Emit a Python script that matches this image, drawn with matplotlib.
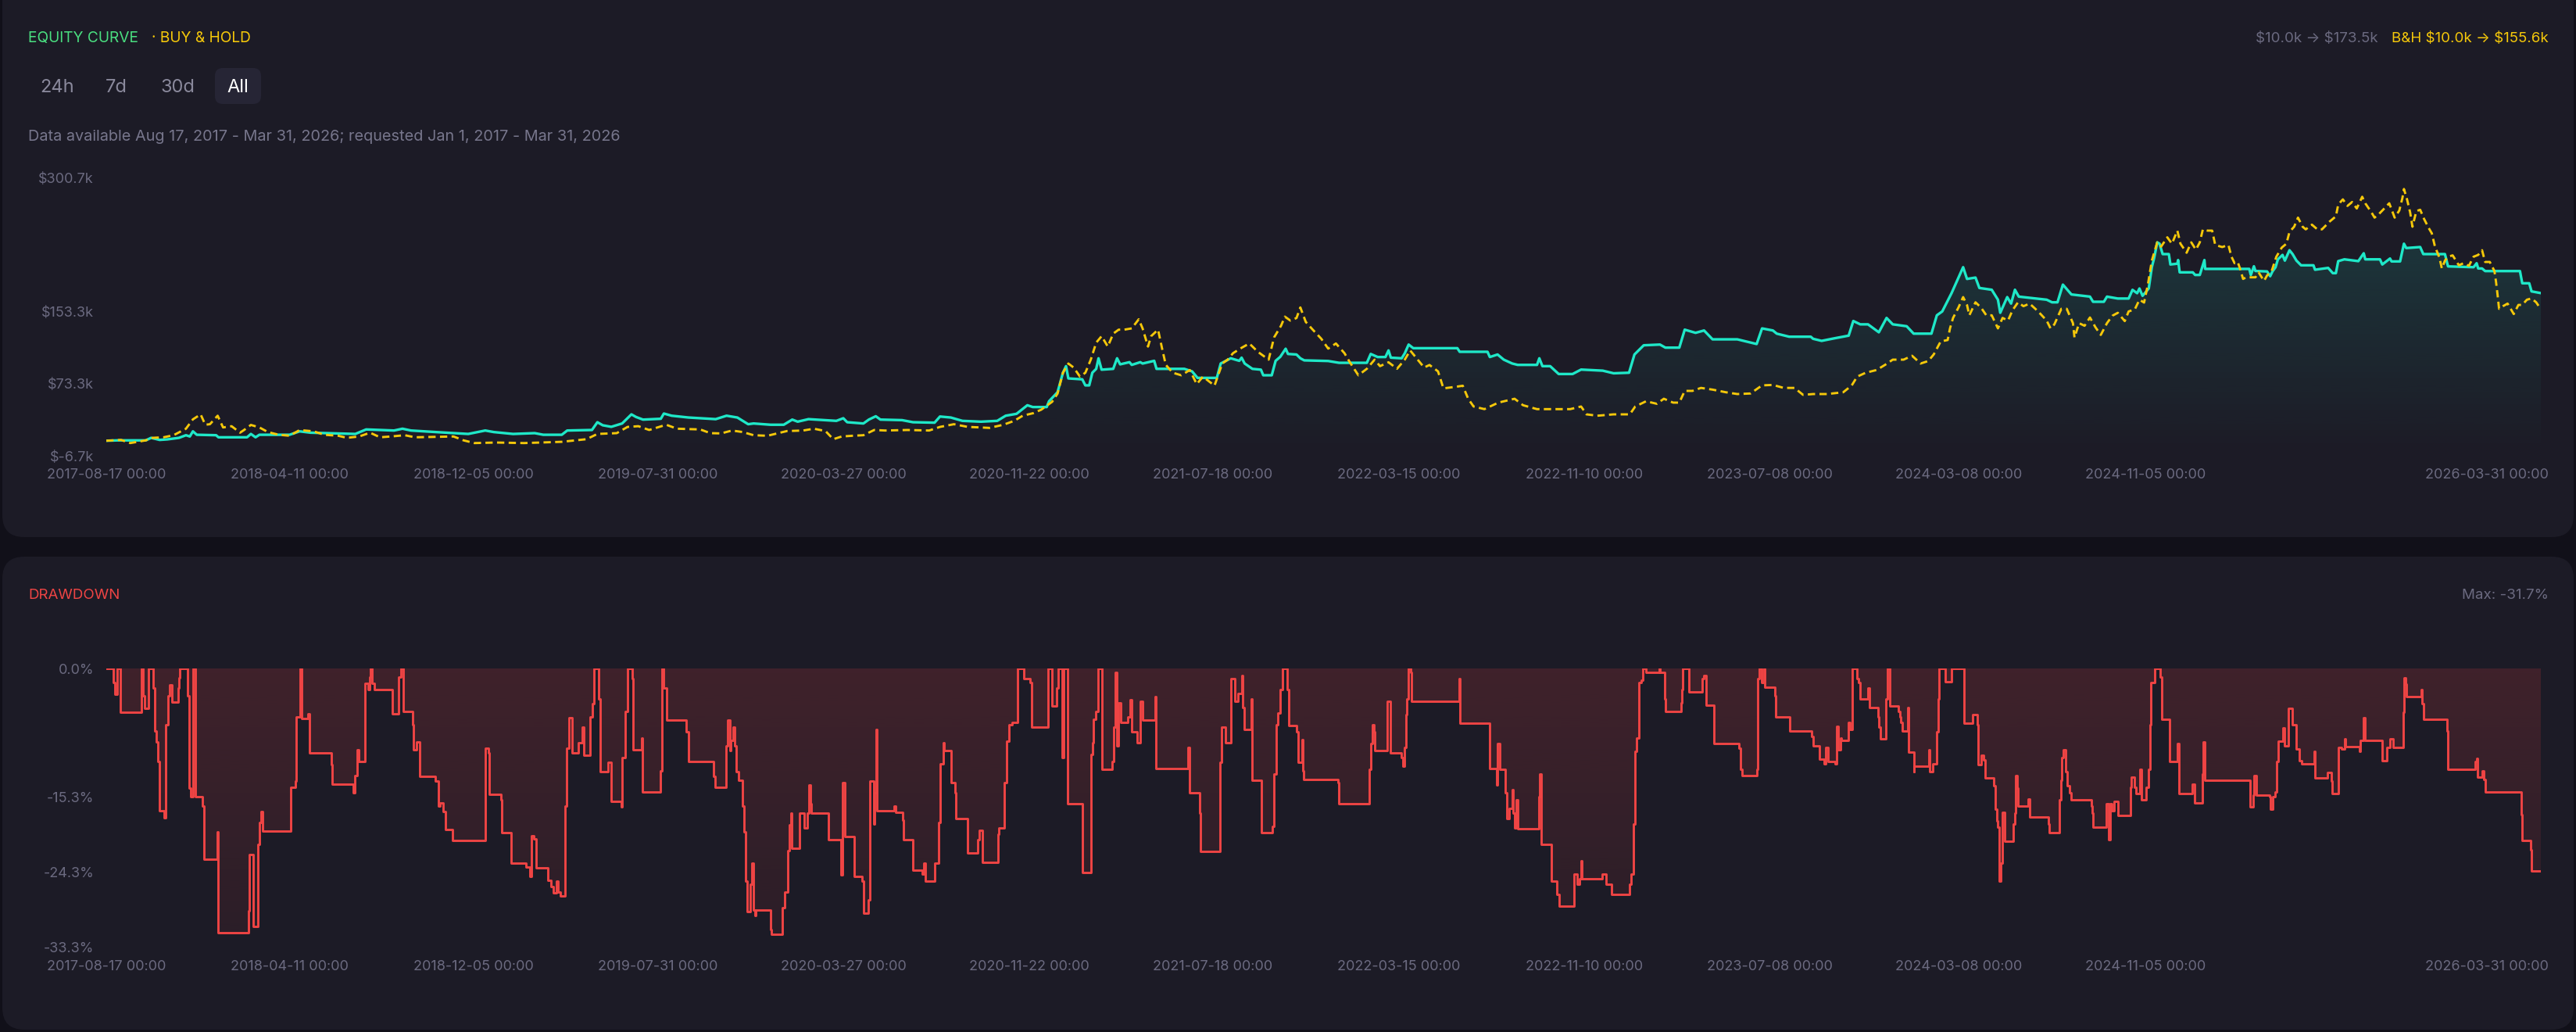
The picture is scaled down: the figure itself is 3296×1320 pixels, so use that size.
import numpy as np
import pandas as pd
import matplotlib
matplotlib.use("Agg")
import matplotlib.pyplot as plt
import matplotlib.dates as mdates
from matplotlib.patches import FancyBboxPatch
from matplotlib.colors import to_rgb

plt.rcParams['font.family'] = ['Inter', 'DejaVu Sans']

# ---------------- data ----------------
equity_dates = [
    "2017-08-17", "2017-09-01", "2017-10-07", "2017-10-14", "2017-10-25", "2017-11-04", "2017-11-19",
    "2017-11-28", "2017-12-03", "2017-12-07", "2017-12-12", "2018-01-06", "2018-01-09", "2018-02-15",
    "2018-02-20", "2018-02-26", "2018-03-03", "2018-04-11", "2018-04-24", "2018-05-08", "2018-07-05",
    "2018-07-19", "2018-08-24", "2018-09-04", "2018-09-15", "2018-10-17", "2018-11-28", "2018-12-20",
    "2018-12-31", "2019-01-25", "2019-02-22", "2019-03-05", "2019-03-29", "2019-04-05", "2019-05-07",
    "2019-05-14", "2019-05-21", "2019-06-01", "2019-06-15", "2019-06-27", "2019-07-03", "2019-07-12",
    "2019-08-04", "2019-08-08", "2019-08-18", "2019-09-09", "2019-10-14", "2019-10-28", "2019-11-11",
    "2019-11-25", "2019-12-02", "2019-12-24", "2020-01-10", "2020-01-21", "2020-01-28", "2020-02-11",
    "2020-03-18", "2020-03-27", "2020-04-01", "2020-04-22", "2020-04-29", "2020-05-08", "2020-05-14",
    "2020-06-11", "2020-06-25", "2020-07-23", "2020-07-30", "2020-08-13", "2020-08-28", "2020-09-21",
    "2020-10-12", "2020-10-23", "2020-11-06", "2020-11-20", "2020-11-27", "2020-12-15", "2020-12-18",
    "2020-12-29", "2021-01-05", "2021-01-09", "2021-01-12", "2021-01-30", "2021-02-03", "2021-02-08",
    "2021-02-12", "2021-02-17", "2021-02-20", "2021-02-24", "2021-03-11", "2021-03-16", "2021-03-20",
    "2021-04-01", "2021-04-04", "2021-04-15", "2021-04-18", "2021-05-03", "2021-05-06", "2021-06-11",
    "2021-06-21", "2021-06-28", "2021-07-23", "2021-07-28", "2021-08-10", "2021-08-21", "2021-08-24",
    "2021-08-28", "2021-09-07", "2021-09-18", "2021-09-21", "2021-10-02", "2021-10-07", "2021-10-13",
    "2021-10-20", "2021-10-23", "2021-11-03", "2021-11-08", "2021-11-13", "2021-12-14", "2021-12-28",
    "2022-02-02", "2022-02-07", "2022-02-16", "2022-02-26", "2022-03-02", "2022-03-05", "2022-03-19",
    "2022-03-23", "2022-03-28", "2022-04-03", "2022-05-30", "2022-06-02", "2022-07-08", "2022-07-11",
    "2022-07-21", "2022-07-29", "2022-08-09", "2022-08-16", "2022-09-10", "2022-09-13", "2022-09-17",
    "2022-09-27", "2022-10-08", "2022-10-26", "2022-11-06", "2022-12-04", "2022-12-18", "2023-01-07",
    "2023-01-14", "2023-01-26", "2023-02-16", "2023-02-23", "2023-03-13", "2023-03-20", "2023-04-03",
    "2023-04-14", "2023-04-25", "2023-05-27", "2023-06-21", "2023-06-28", "2023-07-12", "2023-07-17",
    "2023-08-02", "2023-08-30", "2023-09-02", "2023-09-13", "2023-09-30", "2023-10-18", "2023-10-24",
    "2023-11-02", "2023-11-12", "2023-11-26", "2023-12-06", "2023-12-14", "2024-01-01", "2024-01-10",
    "2024-02-02", "2024-02-09", "2024-02-16", "2024-02-28", "2024-03-05", "2024-03-14", "2024-03-19",
    "2024-03-30", "2024-04-04", "2024-04-20", "2024-04-28", "2024-05-01", "2024-05-10", "2024-05-15",
    "2024-05-20", "2024-05-25", "2024-06-30", "2024-07-07", "2024-07-14", "2024-07-21", "2024-08-01",
    "2024-08-25", "2024-08-29", "2024-09-12", "2024-09-16", "2024-09-30", "2024-10-14", "2024-10-19",
    "2024-10-25", "2024-10-28", "2024-11-01", "2024-11-09", "2024-11-13", "2024-11-16", "2024-11-20",
    "2024-11-23", "2024-11-27", "2024-12-05", "2024-12-07", "2024-12-16", "2024-12-17", "2024-12-19",
    "2025-01-05", "2025-01-08", "2025-01-14", "2025-01-20", "2025-01-21", "2025-03-19", "2025-03-21",
    "2025-03-25", "2025-03-27", "2025-04-11", "2025-04-15", "2025-04-18", "2025-04-22", "2025-04-25",
    "2025-05-01", "2025-05-04", "2025-05-10", "2025-05-14", "2025-05-19", "2025-05-25", "2025-06-10",
    "2025-06-12", "2025-06-29", "2025-07-05", "2025-07-09", "2025-07-12", "2025-07-20", "2025-08-07",
    "2025-08-14", "2025-08-16", "2025-09-04", "2025-09-07", "2025-09-17", "2025-09-19", "2025-09-30",
    "2025-10-05", "2025-10-08", "2025-10-26", "2025-10-30", "2025-11-27", "2025-12-01", "2026-01-03",
    "2026-01-07", "2026-01-09", "2026-01-14", "2026-01-18", "2026-03-04", "2026-03-07", "2026-03-16",
    "2026-03-19", "2026-03-31",
]
equity_values = [
    10.0, 10.4, 10.4, 13.2, 10.9, 11.5, 13.2,
    16.1, 14.7, 20.4, 16.6, 16.1, 13.8, 13.8,
    17.5, 13.8, 16.6, 16.6, 20.4, 18.9, 17.5,
    22.5, 21.3, 23.3, 21.3, 19.6, 17.5, 21.3,
    19.6, 17.5, 18.4, 16.6, 16.6, 21.3, 21.9,
    30.5, 27.1, 25.4, 29.1, 39.2, 36.3, 33.4,
    34.3, 40.1, 37.7, 35.7, 33.9, 37.7, 35.7,
    28.3, 29.1, 27.7, 27.7, 33.4, 31.1, 33.9,
    32.0, 34.9, 30.5, 29.1, 33.4, 37.1, 33.4,
    32.8, 30.5, 30.0, 36.8, 35.7, 32.0, 31.1,
    32.0, 37.7, 39.8, 49.3, 47.3, 47.3, 53.7,
    63.7, 85.3, 92.6, 79.0, 78.0, 71.3, 71.3,
    85.3, 89.6, 101.3, 88.7, 89.6, 101.3, 94.6,
    97.0, 94.0, 97.0, 95.5, 98.5, 89.6, 89.6,
    86.8, 79.6, 79.6, 95.5, 101.3, 98.5, 102.0,
    95.5, 89.6, 88.7, 82.5, 82.5, 98.5, 102.9,
    111.9, 106.1, 105.5, 101.3, 99.0, 98.3, 96.3,
    96.3, 106.1, 102.7, 102.7, 110.0, 102.0, 101.3,
    106.8, 116.5, 112.5, 112.5, 108.5, 108.5, 102.7,
    105.5, 99.8, 95.5, 94.0, 94.0, 101.3, 92.6,
    92.6, 83.9, 83.9, 88.8, 87.6, 84.7, 85.3,
    105.5, 115.7, 116.5, 113.1, 113.1, 133.0, 129.5,
    132.1, 122.3, 122.3, 117.1, 134.4, 132.1, 128.6,
    125.2, 125.2, 122.9, 120.6, 123.5, 126.4, 142.6,
    138.9, 138.9, 130.1, 146.0, 138.9, 136.8, 128.6,
    128.6, 148.9, 153.2, 173.4, 184.9, 202.2, 189.2,
    190.7, 179.2, 177.2, 166.2, 151.7, 169.1, 161.9,
    177.2, 169.6, 166.2, 163.3, 163.3, 182.9, 172.0,
    169.6, 163.9, 163.9, 169.6, 167.5, 167.5, 177.1,
    173.4, 178.6, 170.5, 178.6, 202.2, 212.4, 229.7,
    228.2, 216.7, 216.7, 205.2, 206.1, 210.1, 196.5,
    196.5, 193.6, 193.6, 210.1, 200.3, 200.3, 193.6,
    203.2, 198.0, 197.5, 192.2, 197.5, 202.2, 210.9,
    215.8, 209.5, 221.0, 216.7, 209.5, 204.3, 204.3,
    199.4, 201.4, 195.6, 195.6, 208.9, 210.9, 208.9,
    217.6, 210.9, 210.9, 205.2, 211.8, 208.6, 208.6,
    228.2, 223.4, 224.5, 216.7, 216.7, 203.1, 202.2,
    206.6, 200.8, 200.8, 197.9, 197.9, 184.4, 184.4,
    175.4, 173.5,
]

bh_dates = [
    "2017-08-17", "2017-09-05", "2017-09-17", "2017-10-07", "2017-10-16", "2017-10-30", "2017-11-12",
    "2017-11-28", "2017-12-07", "2017-12-17", "2017-12-23", "2017-12-29", "2018-01-08", "2018-01-15",
    "2018-01-26", "2018-02-06", "2018-02-11", "2018-02-20", "2018-03-03", "2018-03-14", "2018-03-28",
    "2018-04-11", "2018-04-24", "2018-05-12", "2018-05-26", "2018-06-13", "2018-06-24", "2018-07-10",
    "2018-07-24", "2018-08-06", "2018-08-20", "2018-09-07", "2018-09-20", "2018-11-09", "2018-11-22",
    "2018-12-06", "2019-01-03", "2019-02-08", "2019-03-29", "2019-04-30", "2019-05-14", "2019-06-08",
    "2019-06-22", "2019-07-06", "2019-07-20", "2019-08-11", "2019-08-25", "2019-09-24", "2019-10-07",
    "2019-10-21", "2019-11-04", "2019-11-18", "2019-12-02", "2019-12-20", "2020-01-14", "2020-02-04",
    "2020-02-18", "2020-03-04", "2020-03-14", "2020-03-25", "2020-04-08", "2020-04-22", "2020-05-06",
    "2020-05-20", "2020-06-18", "2020-07-16", "2020-07-30", "2020-08-17", "2020-09-04", "2020-09-18",
    "2020-10-02", "2020-10-20", "2020-11-03", "2020-11-14", "2020-11-28", "2020-12-08", "2020-12-22",
    "2020-12-29", "2021-01-05", "2021-01-12", "2021-01-19", "2021-01-27", "2021-02-03", "2021-02-10",
    "2021-02-17", "2021-02-24", "2021-03-04", "2021-03-11", "2021-03-18", "2021-03-25", "2021-04-04",
    "2021-04-13", "2021-04-18", "2021-04-25", "2021-04-29", "2021-05-08", "2021-05-13", "2021-05-18",
    "2021-05-27", "2021-06-07", "2021-06-18", "2021-06-27", "2021-07-05", "2021-07-20", "2021-07-30",
    "2021-08-06", "2021-08-13", "2021-08-24", "2021-09-03", "2021-09-14", "2021-09-28", "2021-10-05",
    "2021-10-14", "2021-10-19", "2021-10-26", "2021-11-03", "2021-11-08", "2021-11-15", "2021-11-24",
    "2021-12-05", "2021-12-14", "2021-12-24", "2022-01-04", "2022-01-11", "2022-01-22", "2022-02-02",
    "2022-02-12", "2022-02-19", "2022-03-02", "2022-03-13", "2022-03-23", "2022-03-30", "2022-04-06",
    "2022-04-17", "2022-04-24", "2022-05-05", "2022-05-12", "2022-05-26", "2022-06-06", "2022-06-13",
    "2022-06-20", "2022-07-04", "2022-07-22", "2022-08-12", "2022-08-23", "2022-09-10", "2022-10-23",
    "2022-11-06", "2022-11-13", "2022-11-27", "2022-12-18", "2023-01-08", "2023-01-15", "2023-01-29",
    "2023-02-12", "2023-02-21", "2023-03-05", "2023-03-13", "2023-03-20", "2023-03-30", "2023-04-10",
    "2023-04-25", "2023-05-12", "2023-05-27", "2023-06-13", "2023-06-28", "2023-07-12", "2023-07-26",
    "2023-08-09", "2023-08-20", "2023-09-02", "2023-09-20", "2023-10-11", "2023-10-22", "2023-10-29",
    "2023-11-09", "2023-11-23", "2023-12-04", "2023-12-14", "2023-12-28", "2024-01-08", "2024-01-19",
    "2024-01-29", "2024-02-05", "2024-02-14", "2024-02-23", "2024-02-26", "2024-03-01", "2024-03-08",
    "2024-03-14", "2024-03-19", "2024-03-22", "2024-03-30", "2024-04-06", "2024-04-13", "2024-04-20",
    "2024-04-28", "2024-05-04", "2024-05-11", "2024-05-17", "2024-05-24", "2024-05-31", "2024-06-08",
    "2024-06-19", "2024-06-30", "2024-07-05", "2024-07-10", "2024-07-19", "2024-07-26", "2024-08-03",
    "2024-08-05", "2024-08-11", "2024-08-18", "2024-08-25", "2024-09-01", "2024-09-08", "2024-09-16",
    "2024-09-23", "2024-09-30", "2024-10-09", "2024-10-14", "2024-10-22", "2024-10-28", "2024-11-03",
    "2024-11-08", "2024-11-13", "2024-11-20", "2024-11-25", "2024-12-03", "2024-12-09", "2024-12-16",
    "2024-12-20", "2024-12-28", "2025-01-03", "2025-01-09", "2025-01-14", "2025-01-18", "2025-01-24",
    "2025-01-30", "2025-02-03", "2025-02-12", "2025-02-20", "2025-02-24", "2025-02-28", "2025-03-04",
    "2025-03-07", "2025-03-11", "2025-03-15", "2025-03-21", "2025-03-27", "2025-03-31", "2025-04-07",
    "2025-04-11", "2025-04-17", "2025-04-23", "2025-04-30", "2025-05-06", "2025-05-10", "2025-05-16",
    "2025-05-21", "2025-05-27", "2025-05-31", "2025-06-08", "2025-06-15", "2025-06-21", "2025-07-01",
    "2025-07-09", "2025-07-12", "2025-07-18", "2025-07-24", "2025-07-30", "2025-08-05", "2025-08-12",
    "2025-08-16", "2025-08-24", "2025-08-28", "2025-09-03", "2025-09-08", "2025-09-16", "2025-09-23",
    "2025-09-29", "2025-10-03", "2025-10-05", "2025-10-09", "2025-10-13", "2025-10-16", "2025-10-21",
    "2025-10-26", "2025-10-31", "2025-11-06", "2025-11-10", "2025-11-14", "2025-11-20", "2025-11-23",
    "2025-11-27", "2025-12-01", "2025-12-07", "2025-12-15", "2025-12-21", "2025-12-28", "2026-01-03",
    "2026-01-09", "2026-01-14", "2026-01-18", "2026-01-24", "2026-01-30", "2026-02-01", "2026-02-03",
    "2026-02-05", "2026-02-10", "2026-02-16", "2026-02-24", "2026-03-02", "2026-03-07", "2026-03-13",
    "2026-03-19", "2026-03-25", "2026-03-31",
]
bh_values = [
    10.0, 10.9, 7.4, 10.4, 13.2, 13.8, 16.1,
    23.3, 33.7, 39.2, 27.7, 28.3, 37.7, 24.7,
    26.1, 18.9, 21.8, 27.5, 24.7, 19.6, 16.6,
    15.5, 21.8, 20.4, 16.6, 15.5, 13.2, 14.7,
    18.9, 13.8, 14.7, 16.1, 13.8, 14.7, 10.4,
    7.4, 8.0, 7.4, 8.8, 11.7, 17.5, 18.4,
    25.3, 26.1, 21.9, 27.7, 23.3, 22.5, 18.4,
    18.1, 21.3, 19.6, 16.1, 15.5, 20.7, 21.3,
    23.3, 20.7, 11.7, 14.7, 15.5, 16.1, 21.9,
    21.3, 21.9, 21.3, 25.3, 28.3, 25.3, 24.8,
    24.2, 27.7, 32.0, 37.7, 40.6, 44.4, 53.1,
    62.1, 85.3, 95.5, 90.9, 81.0, 85.3, 99.8,
    118.6, 125.8, 114.3, 128.6, 133.0, 133.0, 134.4,
    144.5, 134.4, 114.3, 125.8, 133.0, 112.9, 94.0,
    85.3, 82.5, 88.3, 72.7, 81.0, 71.0, 95.5,
    99.8, 107.0, 112.9, 117.7, 108.5, 99.8, 124.4,
    137.3, 147.4, 143.1, 145.9, 157.6, 141.6, 133.0,
    123.0, 112.0, 117.7, 107.0, 96.9, 82.5, 89.7,
    99.8, 92.6, 96.9, 89.7, 99.8, 110.0, 102.7,
    91.1, 93.9, 86.8, 68.0, 69.5, 70.9, 56.5,
    47.9, 45.0, 52.2, 56.5, 49.3, 45.0, 45.0,
    47.9, 39.2, 37.7, 39.2, 39.2, 47.9, 53.7,
    50.9, 56.5, 52.2, 52.2, 65.2, 65.2, 68.5,
    66.6, 63.7, 61.7, 62.3, 71.3, 71.8, 68.5,
    68.5, 60.8, 61.7, 61.7, 63.7, 71.3, 81.0,
    85.3, 88.3, 94.0, 99.8, 99.8, 104.1, 95.5,
    98.3, 105.6, 120.0, 121.5, 134.4, 146.0, 157.6,
    169.1, 160.4, 148.9, 163.3, 157.6, 148.9, 148.9,
    134.4, 146.0, 143.1, 154.7, 163.3, 159.0, 161.9,
    153.2, 143.1, 134.4, 138.9, 156.1, 156.1, 140.2,
    124.3, 140.2, 137.3, 146.5, 135.8, 127.2, 140.2,
    148.4, 151.7, 142.5, 153.2, 155.5, 166.2, 163.0,
    183.5, 209.5, 229.7, 225.0, 235.3, 228.2, 242.7,
    228.2, 218.2, 229.7, 221.6, 229.7, 244.1, 242.7,
    242.7, 226.8, 224.5, 226.8, 213.8, 206.6, 208.0,
    200.8, 189.2, 191.0, 191.0, 191.0, 196.5, 187.0,
    193.0, 198.0, 213.8, 223.9, 228.2, 241.2, 247.0,
    257.1, 247.0, 244.1, 249.3, 244.1, 244.1, 252.8,
    258.5, 271.5, 277.3, 270.1, 274.4, 267.2, 280.2,
    273.0, 262.9, 257.1, 261.4, 265.8, 273.0, 257.1,
    265.0, 278.8, 288.8, 277.3, 262.9, 247.0, 264.3,
    265.8, 255.7, 245.6, 239.8, 225.4, 212.4, 200.8,
    209.5, 213.8, 215.3, 204.3, 206.6, 203.7, 213.8,
    215.8, 221.0, 208.0, 208.0, 198.0, 186.4, 172.0,
    156.1, 159.0, 161.9, 150.3, 160.4, 160.4, 166.2,
    167.6, 163.3, 155.6,
]

dd_dates = [
    "2017-08-17", "2017-08-26", "2017-08-28", "2017-08-31", "2017-09-04", "2017-10-01", "2017-10-03",
    "2017-10-06", "2017-10-11", "2017-10-17", "2017-10-19", "2017-10-21", "2017-10-23", "2017-10-25",
    "2017-10-31", "2017-11-02", "2017-11-05", "2017-11-07", "2017-11-10", "2017-11-18", "2017-11-19",
    "2017-11-20", "2017-11-30", "2017-12-02", "2017-12-04", "2017-12-07", "2017-12-10", "2017-12-19",
    "2017-12-21", "2018-01-07", "2018-01-09", "2018-02-17", "2018-02-18", "2018-02-23", "2018-03-01",
    "2018-03-03", "2018-03-05", "2018-03-07", "2018-04-13", "2018-04-19", "2018-04-20", "2018-04-25",
    "2018-04-27", "2018-05-05", "2018-05-07", "2018-06-04", "2018-06-05", "2018-07-02", "2018-07-04",
    "2018-07-07", "2018-07-09", "2018-07-18", "2018-07-22", "2018-07-24", "2018-07-25", "2018-07-27",
    "2018-07-30", "2018-08-22", "2018-08-30", "2018-09-02", "2018-09-05", "2018-09-17", "2018-09-18",
    "2018-09-22", "2018-09-26", "2018-10-16", "2018-10-20", "2018-10-23", "2018-10-27", "2018-10-30",
    "2018-11-08", "2018-12-20", "2018-12-24", "2018-12-25", "2019-01-09", "2019-01-10", "2019-01-22",
    "2019-02-11", "2019-02-16", "2019-02-18", "2019-02-21", "2019-02-24", "2019-03-11", "2019-03-15",
    "2019-03-18", "2019-03-22", "2019-03-24", "2019-03-27", "2019-04-02", "2019-04-04", "2019-04-07",
    "2019-04-11", "2019-04-19", "2019-04-24", "2019-04-26", "2019-05-05", "2019-05-08", "2019-05-10",
    "2019-05-16", "2019-05-18", "2019-05-28", "2019-06-01", "2019-06-14", "2019-06-15", "2019-06-19",
    "2019-06-22", "2019-06-28", "2019-06-29", "2019-07-10", "2019-07-11", "2019-08-04", "2019-08-06",
    "2019-08-08", "2019-08-12", "2019-09-06", "2019-09-09", "2019-10-11", "2019-10-13", "2019-10-27",
    "2019-10-29", "2019-11-01", "2019-11-02", "2019-11-06", "2019-11-08", "2019-11-10", "2019-11-13",
    "2019-11-18", "2019-11-20", "2019-11-22", "2019-11-24", "2019-11-28", "2019-11-30", "2019-12-02",
    "2019-12-04", "2019-12-05", "2019-12-24", "2019-12-25", "2020-01-08", "2020-01-11", "2020-01-15",
    "2020-01-17", "2020-01-19", "2020-01-20", "2020-01-30", "2020-02-05", "2020-02-09", "2020-02-12",
    "2020-02-14", "2020-02-15", "2020-03-08", "2020-03-24", "2020-03-26", "2020-03-29", "2020-04-10",
    "2020-04-20", "2020-04-22", "2020-04-28", "2020-04-30", "2020-05-05", "2020-05-06", "2020-05-08",
    "2020-05-09", "2020-06-01", "2020-06-03", "2020-06-12", "2020-06-13", "2020-06-25", "2020-07-07",
    "2020-07-09", "2020-07-11", "2020-07-23", "2020-07-28", "2020-07-30", "2020-08-03", "2020-08-04",
    "2020-08-13", "2020-08-18", "2020-08-20", "2020-09-04", "2020-09-17", "2020-09-19", "2020-09-23",
    "2020-10-13", "2020-10-14", "2020-10-21", "2020-10-24", "2020-10-27", "2020-10-31", "2020-11-07",
    "2020-11-15", "2020-11-24", "2020-11-26", "2020-12-17", "2020-12-22", "2020-12-28", "2020-12-30",
    "2021-01-04", "2021-01-06", "2021-01-11", "2021-01-30", "2021-02-10", "2021-02-12", "2021-02-13",
    "2021-02-16", "2021-02-19", "2021-02-24", "2021-03-10", "2021-03-12", "2021-03-14", "2021-03-16",
    "2021-03-18", "2021-03-21", "2021-03-30", "2021-04-02", "2021-04-04", "2021-04-11", "2021-04-15",
    "2021-04-18", "2021-05-04", "2021-05-05", "2021-06-16", "2021-06-18", "2021-07-01", "2021-07-02",
    "2021-07-27", "2021-07-29", "2021-08-03", "2021-08-10", "2021-08-15", "2021-08-19", "2021-08-24",
    "2021-08-25", "2021-08-27", "2021-09-06", "2021-09-07", "2021-09-19", "2021-10-03", "2021-10-05",
    "2021-10-08", "2021-10-10", "2021-10-13", "2021-10-16", "2021-10-22", "2021-10-24", "2021-11-03",
    "2021-11-05", "2021-11-10", "2021-11-11", "2021-11-12", "2021-12-27", "2021-12-28", "2022-02-05",
    "2022-02-07", "2022-02-09", "2022-02-11", "2022-02-12", "2022-02-28", "2022-03-04", "2022-03-19",
    "2022-03-21", "2022-03-23", "2022-03-25", "2022-03-26", "2022-03-28", "2022-03-31", "2022-04-01",
    "2022-06-01", "2022-06-02", "2022-07-11", "2022-07-20", "2022-07-21", "2022-07-24", "2022-07-31",
    "2022-08-02", "2022-08-05", "2022-08-09", "2022-08-10", "2022-08-12", "2022-08-14", "2022-08-16",
    "2022-09-12", "2022-09-13", "2022-09-15", "2022-09-29", "2022-10-06", "2022-10-09", "2022-10-28",
    "2022-11-01", "2022-11-04", "2022-11-06", "2022-11-07", "2022-12-03", "2022-12-08", "2022-12-15",
    "2023-01-08", "2023-01-10", "2023-01-13", "2023-01-15", "2023-01-17", "2023-01-20", "2023-01-23",
    "2023-01-25", "2023-01-29", "2023-02-15", "2023-02-16", "2023-02-22", "2023-02-23", "2023-03-15",
    "2023-03-16", "2023-03-17", "2023-03-25", "2023-04-12", "2023-04-14", "2023-04-17", "2023-04-27",
    "2023-05-29", "2023-05-31", "2023-06-02", "2023-06-21", "2023-06-22", "2023-06-24", "2023-06-27",
    "2023-06-30", "2023-07-01", "2023-07-15", "2023-07-16", "2023-08-03", "2023-08-31", "2023-09-02",
    "2023-09-10", "2023-09-16", "2023-09-18", "2023-09-21", "2023-09-30", "2023-10-02", "2023-10-04",
    "2023-10-08", "2023-10-09", "2023-10-18", "2023-10-20", "2023-10-23", "2023-10-29", "2023-10-31",
    "2023-11-02", "2023-11-12", "2023-11-14", "2023-11-25", "2023-11-26", "2023-11-28", "2023-12-05",
    "2023-12-07", "2023-12-10", "2023-12-21", "2023-12-23", "2023-12-24", "2023-12-26", "2024-01-02",
    "2024-01-03", "2024-01-10", "2024-01-11", "2024-01-30", "2024-01-31", "2024-02-04", "2024-02-09",
    "2024-02-11", "2024-02-12", "2024-02-20", "2024-02-28", "2024-03-15", "2024-03-26", "2024-04-01",
    "2024-04-02", "2024-04-06", "2024-04-09", "2024-04-11", "2024-04-23", "2024-04-25", "2024-04-27",
    "2024-04-28", "2024-04-30", "2024-05-02", "2024-05-04", "2024-05-07", "2024-05-18", "2024-05-20",
    "2024-05-21", "2024-05-23", "2024-05-24", "2024-06-06", "2024-06-08", "2024-07-02", "2024-07-03",
    "2024-07-16", "2024-07-18", "2024-07-20", "2024-07-22", "2024-07-25", "2024-07-27", "2024-07-30",
    "2024-08-01", "2024-08-27", "2024-08-28", "2024-08-29", "2024-09-15", "2024-09-18", "2024-09-20",
    "2024-09-22", "2024-09-25", "2024-09-30", "2024-10-16", "2024-10-17", "2024-10-21", "2024-10-24",
    "2024-10-29", "2024-10-31", "2024-11-06", "2024-11-09", "2024-11-11", "2024-11-12", "2024-11-17",
    "2024-11-24", "2024-11-26", "2024-12-06", "2024-12-16", "2024-12-18", "2025-01-04", "2025-01-07",
    "2025-01-17", "2025-01-18", "2025-01-20", "2025-03-20", "2025-03-24", "2025-03-25", "2025-03-28",
    "2025-04-14", "2025-04-15", "2025-04-18", "2025-04-21", "2025-04-23", "2025-04-25", "2025-05-02",
    "2025-05-04", "2025-05-09", "2025-05-14", "2025-05-19", "2025-05-23", "2025-05-26", "2025-06-11",
    "2025-06-12", "2025-06-28", "2025-07-03", "2025-07-04", "2025-07-12", "2025-07-16", "2025-07-20",
    "2025-07-21", "2025-08-09", "2025-08-10", "2025-08-14", "2025-08-16", "2025-09-07", "2025-09-13",
    "2025-09-17", "2025-09-21", "2025-10-04", "2025-10-05", "2025-10-07", "2025-10-08", "2025-10-27",
    "2025-10-28", "2025-10-30", "2025-11-30", "2025-12-01", "2026-01-05", "2026-01-07", "2026-01-08",
    "2026-01-14", "2026-01-16", "2026-01-18", "2026-03-06", "2026-03-07", "2026-03-18", "2026-03-19",
    "2026-03-31",
]
dd_values = [
    0.0, -1.7, -3.1, 0.0, -5.2, 0.0, -3.3,
    -4.8, 0.0, -2.3, -7.5, -8.8, -11.1, -17.0,
    -17.8, -6.7, -3.3, -2.0, -4.0, -2.3, -1.1,
    0.0, -3.3, -14.3, -15.3, 0.0, -15.3, -16.4,
    -22.8, -19.5, -31.5, -28.9, -22.2, -30.8, -21.0,
    -18.4, -17.1, -19.4, -14.2, -13.4, -5.8, 0.0,
    -6.0, -5.4, -10.1, -11.5, -13.8, -14.8, -12.8,
    -9.7, -11.1, -1.8, -2.5, -1.0, 0.0, -1.8,
    -2.5, -5.4, -1.0, 0.0, -5.1, -6.7, -9.7,
    -8.8, -12.9, -13.4, -16.4, -16.0, -17.1, -19.2,
    -20.5, -9.5, -10.1, -15.0, -15.7, -19.6, -23.2,
    -23.7, -24.8, -20.0, -20.3, -23.8, -25.3, -26.0,
    -26.8, -25.4, -26.7, -27.1, -16.4, -9.5, -5.9,
    -10.1, -8.9, -7.0, -10.4, -5.8, -4.2, 0.0,
    -3.6, -12.3, -11.2, -15.9, -16.5, -10.6, -5.1,
    0.0, -1.2, -9.7, -8.3, -14.7, -12.2, 0.0,
    -2.3, -6.2, -7.6, -11.1, -12.9, -14.2, -9.2,
    -6.2, -9.8, -8.6, -7.0, -9.2, -12.3, -13.3,
    -16.4, -19.5, -25.4, -29.0, -25.7, -23.2, -28.8,
    -29.5, -28.8, -31.2, -31.7, -28.5, -26.7, -21.7,
    -18.7, -17.3, -21.5, -17.3, -19.0, -17.3, -13.9,
    -16.1, -17.3, -20.4, -24.6, -13.6, -20.1, -24.8,
    -25.4, -29.2, -27.6, -13.4, -18.6, -14.8, -7.3,
    -17.0, -16.4, -17.2, -18.1, -20.4, -24.1, -24.5,
    -23.2, -25.4, -23.2, -18.4, -11.4, -8.9, -9.8,
    -13.6, -14.8, -17.9, -22.0, -20.4, -19.3, -23.1,
    -19.8, -19.0, -13.6, -8.7, -6.7, -6.4, 0.0,
    -1.25, -1.7, -7.0, 0.0, -4.5, -2.3, 0.0,
    -10.6, 0.0, -16.1, -24.3, -10.3, -8.9, -6.1,
    -5.1, 0.0, -12.0, -11.1, -7.0, -0.5, -9.2,
    -4.1, -6.4, -5.8, -3.7, -7.6, -8.9, -3.9,
    -6.2, -3.4, -11.9, -9.4, -14.8, -17.3, -21.8,
    -11.2, -7.0, -8.9, -1.25, -3.9, -3.0, -0.8,
    -4.7, -7.3, -3.6, -13.3, -19.6, -18.8, -12.6,
    -6.7, -5.3, -2.5, 0.0, -2.5, -6.8, -7.6,
    -11.2, -8.5, -12.2, -13.2, -13.6, -16.1, -12.0,
    -9.0, -6.7, -7.6, -9.8, -3.9, -10.1, -10.6,
    -11.7, -9.4, -5.5, -3.6, 0.0, -0.5, -3.9,
    -1.25, -6.55, -11.9, -13.9, -9.0, -12.0, -14.8,
    -17.9, -16.7, -14.5, -17.3, -19.0, -15.7, -19.1,
    -15.3, -12.6, -21.0, -25.4, -27.0, -28.4, -24.5,
    -25.7, -25.1, -22.9, -25.1, -24.5, -25.7, -27.0,
    -25.7, -24.5, -18.6, -9.9, -8.3, -1.7, -1.4,
    0.0, -0.5, 0.0, -0.5, -3.6, -5.1, -4.1,
    -2.5, 0.0, -2.8, -1.25, -0.8, -4.4, -9.0,
    -9.5, -12.0, -12.8, -12.0, -1.25, 0.0, -1.7,
    0.0, -2.2, -3.3, -5.8, -7.5, -8.1, -9.2,
    -10.8, -11.4, -9.4, -11.1, -11.4, -6.9, -9.7,
    -8.3, -8.6, -6.4, -7.3, 0.0, -1.25, -1.7,
    -3.6, -2.3, -4.7, -5.8, -7.0, -8.4, -3.6,
    0.0, -4.5, -5.1, -5.8, -6.4, -7.5, -4.7,
    -10.0, -12.3, -11.7, -9.7, -12.3, -11.4, -7.6,
    -3.6, 0.0, -1.6, 0.0, -6.55, -5.5, -6.7,
    -11.5, -10.4, -10.9, -13.1, -14.0, -16.8, -18.2,
    -18.9, -25.4, -23.2, -17.2, -20.6, -18.6, -17.3,
    -12.8, -14.3, -16.4, -15.6, -17.7, -18.6, -19.6,
    -15.7, -13.3, -10.6, -9.7, -12.3, -14.0, -14.8,
    -15.7, -16.4, -17.3, -18.9, -16.1, -20.4, -16.1,
    -17.0, -15.9, -17.5, -14.2, -13.0, -14.2, -14.9,
    -12.0, -15.7, -14.2, -12.0, -6.7, -1.7, 0.0,
    -1.0, -6.1, -11.1, -9.0, -14.9, -13.8, -16.0,
    -12.6, -8.8, -13.3, -16.5, -15.1, -12.8, -15.1,
    -15.3, -16.8, -15.3, -14.7, -11.1, -8.7, -7.1,
    -9.2, -4.8, -6.7, -9.6, -11.0, -11.4, -9.9,
    -13.1, -12.4, -13.4, -14.9, -9.4, -9.6, -8.4,
    -9.3, -9.9, -8.6, -5.9, -8.6, -11.0, -9.4,
    -8.4, -9.4, -5.2, -1.1, -1.9, -3.4, -2.5,
    -4.2, -6.1, -7.5, -12.0, -11.1, -10.7, -13.0,
    -12.2, -13.2, -14.7, -17.4, -20.5, -21.6, -24.2,
    -24.2,
]

equity_tick_values = [-6.7, 73.3, 153.3, 300.7]
dd_tick_values = [0.0, -15.3, -24.3, -33.3]
x_tick_dates = ["2017-08-17", "2018-04-11", "2018-12-05", "2019-07-31", "2020-03-27",
                "2020-11-22", "2021-07-18", "2022-03-15", "2022-11-10", "2023-07-08",
                "2024-03-08", "2024-11-05", "2026-03-31"]
range_buttons = ["24h", "7d", "30d", "All"]
active_button = "All"
availability_note = "Data available Aug 17, 2017 - Mar 31, 2026; requested Jan 1, 2017 - Mar 31, 2026"

# ---------------- style ----------------
OUTER = "#111019"
PANEL = "#1c1b26"
TEAL = "#1fe8c8"
YELLOW = "#f5c80a"
RED = "#ef4444"
GREEN = "#4ade80"
MUTED = "#6b6a80"
BTN = "#8a899c"

W, H = 3296, 1320
fig = plt.figure(figsize=(W / 100, H / 100), dpi=100)
fig.patch.set_facecolor(OUTER)

bg = fig.add_axes([0, 0, 1, 1])
bg.set_xlim(0, W)
bg.set_ylim(H, 0)
bg.axis("off")
bg.set_zorder(0)

for (y0, y1) in [(-30, 687), (712, 1317)]:
    bg.add_patch(FancyBboxPatch((3, y0), W - 6, y1 - y0,
                                boxstyle="round,pad=0,rounding_size=28",
                                facecolor=PANEL, edgecolor="none"))

# header texts
bg.text(36, 54, "EQUITY CURVE", color=GREEN, fontsize=13.8, va="baseline", ha="left",
        parse_math=False)
bg.text(194, 54, "· BUY & HOLD", color=YELLOW, fontsize=13.8, va="baseline", ha="left",
        parse_math=False)
bg.text(3043, 54, f"${equity_values[0]:.1f}k → ${equity_values[-1]:.1f}k",
        color=MUTED, fontsize=13.5, va="baseline", ha="right", parse_math=False)
bg.text(3261, 54, f"B&H ${bh_values[0]:.1f}k → ${bh_values[-1]:.1f}k",
        color=YELLOW, fontsize=13.5, va="baseline", ha="right", parse_math=False)

btn_x = [73, 149, 227, 304]
for label, bx in zip(range_buttons, btn_x):
    if label == active_button:
        bg.add_patch(FancyBboxPatch((275, 87), 59, 46,
                                    boxstyle="round,pad=0,rounding_size=10",
                                    facecolor="#262535", edgecolor="none"))
        bg.text(bx, 118, label, color="#ffffff", fontsize=17, va="baseline", ha="center")
    else:
        bg.text(bx, 118, label, color=BTN, fontsize=17, va="baseline", ha="center")

bg.text(36, 180, availability_note, color="#77768c", fontsize=14.3, va="baseline", ha="left",
        parse_math=False)

bg.text(36, 766, "DRAWDOWN", color=RED, fontsize=13.5, va="baseline", ha="left")
bg.text(3261, 766, f"Max: {min(dd_values):.1f}%", color=MUTED, fontsize=13.5,
        va="baseline", ha="right")

# ---------------- axes ----------------
X0, X1 = 136, 3251
ax1 = fig.add_axes([X0 / W, 1 - 583 / H, (X1 - X0) / W, (583 - 228) / H])
ax2 = fig.add_axes([X0 / W, 1 - 1212 / H, (X1 - X0) / W, (1212 - 855) / H])

eq_d = pd.to_datetime(equity_dates)
bh_d = pd.to_datetime(bh_dates)
dd_d = pd.to_datetime(dd_dates)
xt = pd.to_datetime(x_tick_dates)
xmin, xmax = eq_d[0], eq_d[-1]

ylo, yhi = min(equity_tick_values), max(equity_tick_values)
dlo, dhi = min(dd_tick_values), max(dd_tick_values)

# equity gradient fill
poly = ax1.fill_between(eq_d, equity_values, ylo, facecolor="none", edgecolor="none")
grad = np.zeros((256, 1, 4))
grad[..., :3] = to_rgb(TEAL)
grad[:, 0, 3] = np.linspace(0.17, 0.0, 256)
xn0, xn1 = mdates.date2num(xmin), mdates.date2num(xmax)
im = ax1.imshow(grad, aspect="auto", extent=[xn0, xn1, ylo, yhi], origin="upper",
                zorder=1, interpolation="bilinear")
im.set_clip_path(poly.get_paths()[0], transform=ax1.transData)

ax1.plot(eq_d, equity_values, color=TEAL, lw=2.4, zorder=3, solid_joinstyle="round")
ax1.plot(bh_d, bh_values, color=YELLOW, lw=2.1, zorder=4, linestyle=(0, (3.2, 1.9)))

# drawdown gradient fill
poly2 = ax2.fill_between(dd_d, dd_values, 0, step="post", facecolor="none", edgecolor="none")
grad2 = np.zeros((256, 1, 4))
grad2[..., :3] = to_rgb(RED)
grad2[:, 0, 3] = np.linspace(0.17, 0.07, 256)
im2 = ax2.imshow(grad2, aspect="auto", extent=[xn0, xn1, dlo, dhi], origin="upper",
                 zorder=1, interpolation="bilinear")
im2.set_clip_path(poly2.get_paths()[0], transform=ax2.transData)
ax2.plot(dd_d, dd_values, color=RED, lw=2.1, drawstyle="steps-post", zorder=3)

for ax, lo, hi, ticks, fmt in [(ax1, ylo, yhi, equity_tick_values, lambda v: f"${v:.1f}k"),
                               (ax2, dlo, dhi, dd_tick_values, lambda v: f"{v:.1f}%")]:
    ax.set_facecolor("none")
    ax.set_xlim(xmin, xmax)
    ax.set_ylim(lo, hi)
    for s in ax.spines.values():
        s.set_visible(False)
    ax.set_yticks(ticks)
    ax.set_yticklabels([fmt(v) for v in ticks])
    ax.set_xticks(xt[:-1])
    ax.set_xticklabels([d.strftime("%Y-%m-%d %H:%M") for d in xt[:-1]])
    ax.tick_params(axis="both", length=0, colors=MUTED, labelsize=13)
    ax.tick_params(axis="y", pad=11.5)
    ax.tick_params(axis="x", pad=11.5)
    ax.annotate(xt[-1].strftime("%Y-%m-%d %H:%M"), xy=(mdates.date2num(xt[-1]), 0),
                xycoords=("data", "axes fraction"), xytext=(7.2, -11.5),
                textcoords="offset points", ha="right", va="top",
                color=MUTED, fontsize=13, annotation_clip=False)
    ax.grid(False)

fig.savefig("out.png", dpi=100, facecolor=fig.get_facecolor())
